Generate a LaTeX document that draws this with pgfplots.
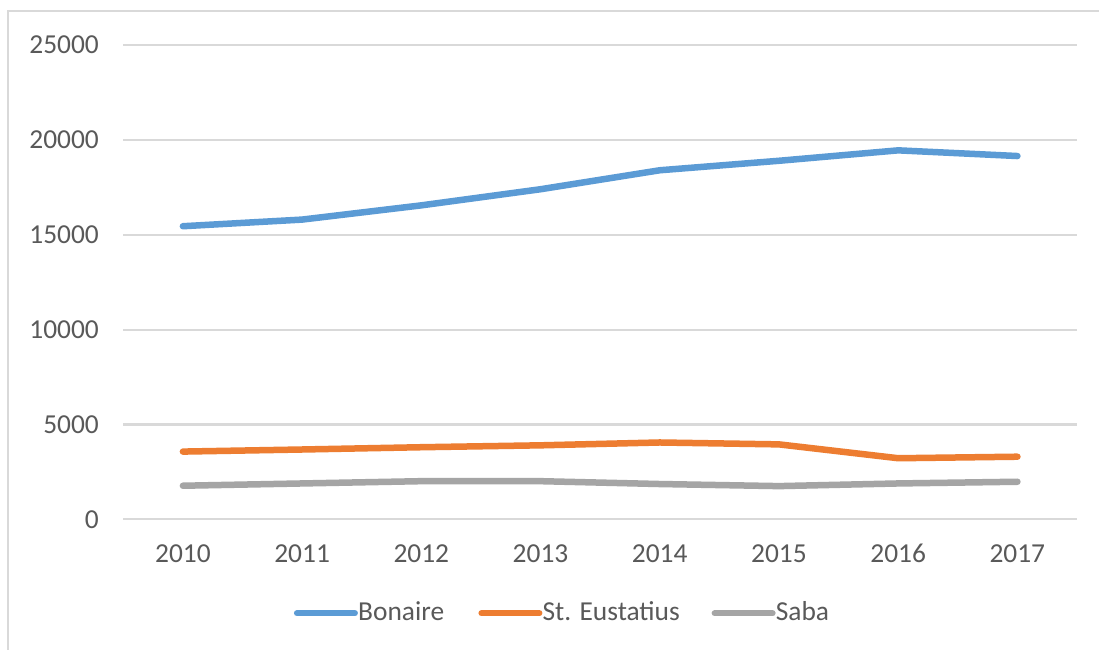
\documentclass[border=0pt]{standalone}
\usepackage{pgfplots}
\pgfplotsset{compat=1.18}
\usepackage{fontspec}
\setmainfont{Carlito}
\definecolor{cBon}{HTML}{5B9BD5}
\definecolor{cEus}{HTML}{ED7D31}
\definecolor{cSab}{HTML}{A5A5A5}
\definecolor{cTxt}{HTML}{595959}
\definecolor{cGrid}{HTML}{D9D9D9}
\begin{document}
\fontsize{10.96}{13}\selectfont
\begin{tikzpicture}
\useasboundingbox (0pt,0pt) rectangle (439.6pt,-260pt);
\fill[white] (0pt,0pt) rectangle (439.6pt,-260pt);
\draw[cGrid, line width=0.8pt] (3.3pt,-270pt) -- (3.3pt,-4.5pt) -- (460pt,-4.5pt);
\begin{axis}[
  at={(49.32pt,-207.72pt)}, anchor=south west,
  scale only axis,
  width=381.5pt, height=189.7pt,
  xmin=2009.5, xmax=2017.5,
  ymin=0, ymax=25000,
  scaled y ticks=false,
  scaled x ticks=false,
  xtick={2010,...,2017},
  xticklabels={2010,2011,2012,2013,2014,2015,2016,2017},
  ytick={0,5000,10000,15000,20000,25000},
  yticklabels={0,5000,10000,15000,20000,25000},
  axis line style={draw=none},
  major tick length=0pt,
  ymajorgrids,
  grid style={cGrid, line width=0.85pt},
  /pgf/number format/assume math mode=true,
  ticklabel style={font=\fontsize{10.96}{13}\selectfont, text=cTxt, inner sep=0pt},
  yticklabel style={anchor=east, xshift=-9.6pt},
  xticklabel style={anchor=base, yshift=-17.4pt},
  legend columns=3,
  legend style={at={(0.1755,-0.1982)}, anchor=west, draw=none, fill=none,
    column sep=0pt, inner sep=0pt, outer sep=0pt,
    nodes={inner sep=0pt, text=cTxt, font=\fontsize{10.96}{13}\selectfont}},
  legend image code/.code={
    \path (0pt,0pt) (25.6pt,0pt);
    \draw[#1, line width=2.4pt, line cap=round] (1.2pt,0pt) -- (24.4pt,0pt);
  },
]
\addplot[cBon, line width=2.6pt, line join=round, line cap=round] coordinates {
 (2010,15450) (2011,15800) (2012,16550) (2013,17400) (2014,18400) (2015,18900) (2016,19450) (2017,19150)};
\addlegendentry{\hspace*{-1.2pt}Bonaire\hspace*{12.4pt}}
\addplot[cEus, line width=2.6pt, line join=round, line cap=round] coordinates {
 (2010,3570) (2011,3680) (2012,3800) (2013,3900) (2014,4050) (2015,3950) (2016,3220) (2017,3300)};
\addlegendentry{\hspace*{-1.2pt}St. Eustatius\hspace*{11.4pt}}
\addplot[cSab, line width=2.6pt, line join=round, line cap=round] coordinates {
 (2010,1770) (2011,1890) (2012,2010) (2013,2010) (2014,1860) (2015,1750) (2016,1890) (2017,1980)};
\addlegendentry{\hspace*{-1.2pt}Saba}
\end{axis}
\end{tikzpicture}
\end{document}
